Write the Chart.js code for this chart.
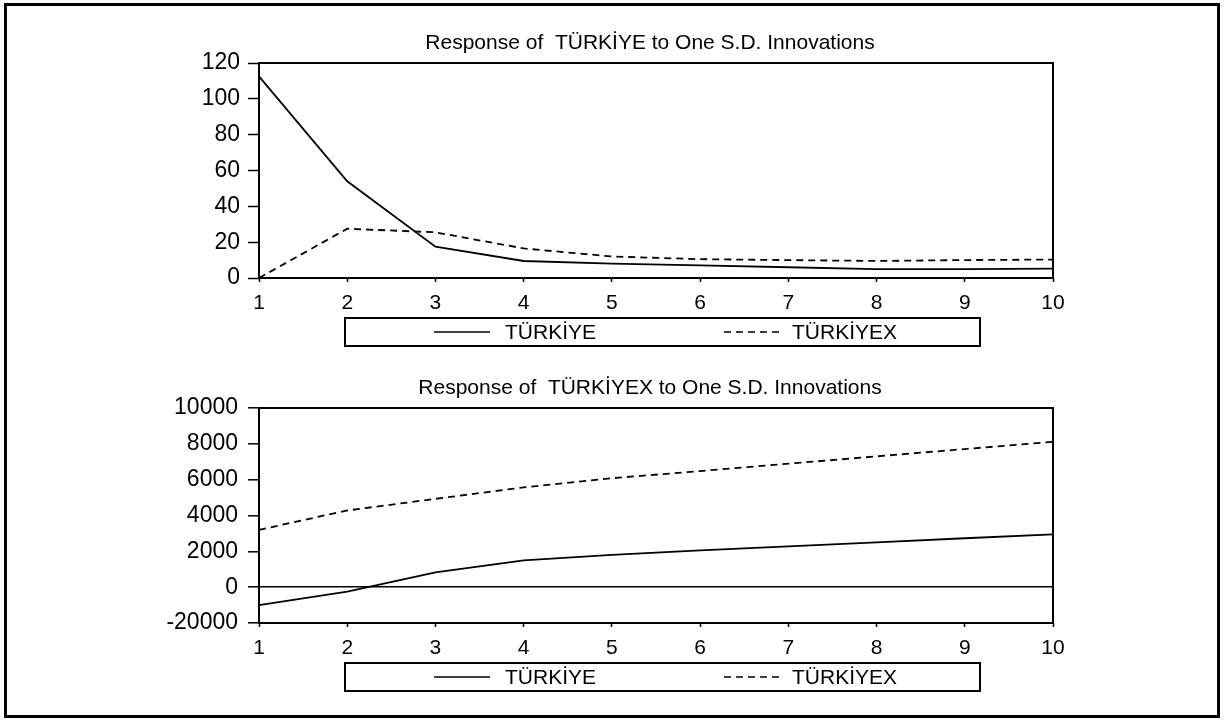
<!DOCTYPE html>
<html>
<head>
<meta charset="utf-8">
<script src="https://cdn.jsdelivr.net/npm/chart.js@4"></script>
<style>
  body { margin: 0; background: #fff; font-family: "Liberation Sans", Arial, sans-serif; }
  .frame { position: absolute; left: 4px; top: 3px; width: 1216px; height: 715px; border: 3px solid #000; box-sizing: border-box; }
  .box { position: absolute; left: 0; width: 1225px; height: 320px; }
  .legend { position: absolute; left: 344px; width: 637px; height: 30px; border: 2px solid #000; box-sizing: border-box; font-size: 21px; color: #000; }
  .legend span, .legend svg { position: absolute; }
  .legend span { top: 0; line-height: 25px; }
</style>
</head>
<body>
<div class="frame"></div>
<div class="box" style="top:0"><canvas id="graficoTop"></canvas></div>
<div class="box" style="top:345px"><canvas id="graficoBottom"></canvas></div>
<div class="legend" style="top:317px">
  <svg style="left:88px;top:11px" width="56" height="4"><line x1="0" y1="2" x2="56" y2="2" stroke="#000" stroke-width="1.6"/></svg>
  <span style="left:159px">TÜRKİYE</span>
  <svg style="left:378px;top:11px" width="56" height="4"><line x1="0" y1="2" x2="56" y2="2" stroke="#000" stroke-width="1.6" stroke-dasharray="7 5"/></svg>
  <span style="left:446px">TÜRKİYEX</span>
</div>
<div class="legend" style="top:662px">
  <svg style="left:88px;top:11px" width="56" height="4"><line x1="0" y1="2" x2="56" y2="2" stroke="#000" stroke-width="1.6"/></svg>
  <span style="left:159px">TÜRKİYE</span>
  <svg style="left:378px;top:11px" width="56" height="4"><line x1="0" y1="2" x2="56" y2="2" stroke="#000" stroke-width="1.6" stroke-dasharray="7 5"/></svg>
  <span style="left:446px">TÜRKİYEX</span>
</div>
<script>
// periodos
const periodos = ['1', '2', '3', '4', '5', '6', '7', '8', '9', '10'];

// Response of TURKIYE
const topTurkiye = [112.5, 54, 17.5, 9.5, 8, 7, 6, 5, 5, 5.2];
const topTurkiyex = [0, 27.5, 25.5, 16.5, 12, 10.5, 10, 9.5, 10, 10.3];
const topTitulo = 'Response of  TÜRKİYE to One S.D. Innovations';

// Response of TURKIYEX
const botTurkiye = [-1000, -250, 820, 1500, 1800, 2050, 2280, 2500, 2730, 2950];
const botTurkiyex = [3200, 4280, 4930, 5570, 6080, 6480, 6890, 7300, 7710, 8110];
const botTitulo = 'Response of  TÜRKİYEX to One S.D. Innovations';
const botTickLabels = ['-20000', '0', '2000', '4000', '6000', '8000', '10000'];

Chart.defaults.font.family = '"Liberation Sans", Arial, sans-serif';
Chart.defaults.color = '#000';

// moldura do grafico + titulo centrado na area do grafico
const moldura = {
  id: 'moldura',
  afterDraw(chart, args, opts) {
    const a = chart.chartArea, ctx = chart.ctx;
    ctx.save();
    ctx.strokeStyle = '#000';
    ctx.lineWidth = 2;
    ctx.strokeRect(a.left, a.top, a.right - a.left, a.bottom - a.top);
    ctx.fillStyle = '#000';
    ctx.font = '21px "Liberation Sans", Arial, sans-serif';
    ctx.textAlign = 'center';
    ctx.textBaseline = 'middle';
    ctx.fillText(opts.texto, (a.left + a.right) / 2 - 6, a.top - 20);
    ctx.restore();
  }
};

function criarGrafico(id, titulo, serieA, serieB, yOpts) {
  return new Chart(document.getElementById(id), {
    type: 'line',
    data: {
      labels: periodos,
      datasets: [
        { label: 'TÜRKİYE', data: serieA, borderColor: '#000', borderWidth: 1.8, pointRadius: 0, tension: 0 },
        { label: 'TÜRKİYEX', data: serieB, borderColor: '#000', borderWidth: 1.8, borderDash: [7, 5], pointRadius: 0, tension: 0 }
      ]
    },
    options: {
      responsive: true,
      maintainAspectRatio: false,
      animation: false,
      devicePixelRatio: 1,
      layout: { padding: { left: 0, right: 172, top: 63, bottom: 2 } },
      plugins: {
        legend: { display: false },
        tooltip: { enabled: false },
        title: { display: false },
        moldura: { texto: titulo }
      },
      scales: {
        x: {
          border: { display: false },
          grid: { drawOnChartArea: false, tickLength: 4, tickColor: '#000', tickWidth: 1.5 },
          ticks: { font: { size: 21 }, padding: 9, maxRotation: 0 },
          afterFit: s => { s.height = 40; }
        },
        y: Object.assign({
          border: { display: false },
          afterFit: s => { s.width = 259; }
        }, yOpts)
      }
    },
    plugins: [moldura]
  });
}

criarGrafico('graficoTop', topTitulo, topTurkiye, topTurkiyex, {
  min: 0, max: 120,
  grid: { drawOnChartArea: false, tickLength: 11, tickColor: '#000', tickWidth: 1.5 },
  ticks: { stepSize: 20, font: { size: 23 }, padding: 8 }
});

criarGrafico('graficoBottom', botTitulo, botTurkiye, botTurkiyex, {
  min: -2000, max: 10000,
  grid: {
    color: c => (c.tick && c.tick.value === 0 ? '#000' : 'rgba(0,0,0,0)'),
    lineWidth: 1.6, tickLength: 11, tickColor: '#000', tickWidth: 1.5
  },
  ticks: { stepSize: 2000, font: { size: 23 }, padding: 10, callback: (v, i) => botTickLabels[i] }
});
</script>
</body>
</html>
